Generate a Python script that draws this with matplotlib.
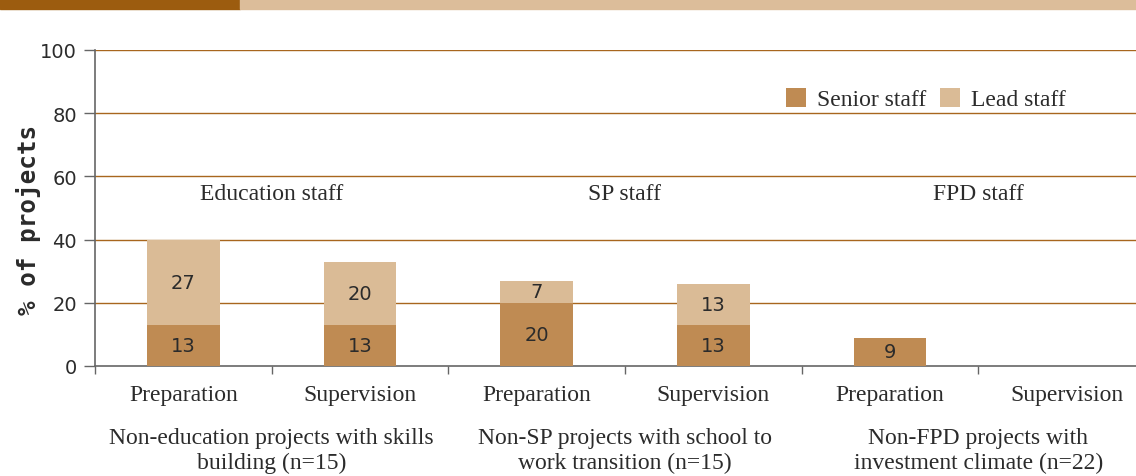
import matplotlib
matplotlib.use("Agg")
import matplotlib.pyplot as plt
from matplotlib.patches import Rectangle

categories = ["Preparation", "Supervision", "Preparation", "Supervision", "Preparation", "Supervision"]
senior = [13, 13, 20, 13, 9, 0]
lead = [27, 20, 7, 13, 0, 0]
group_titles = ["Education staff", "SP staff", "FPD staff"]
group_labels = ["Non-education projects with skills\nbuilding (n=15)",
                "Non-SP projects with school to\nwork transition (n=15)",
                "Non-FPD projects with\ninvestment climate (n=22)"]
yticks = [0, 20, 40, 60, 80, 100]

c_senior = "#bf8b53"
c_lead = "#dabb96"
c_grid = "#a8661e"
c_text = "#2b2b2b"
serif = ["Liberation Serif", "DejaVu Serif"]
fs = 17

fig = plt.figure(figsize=(11.36, 4.77), dpi=100)
# top decorative band
fig.patches.append(Rectangle((0, 1 - 10/477), 240/1136, 10/477, transform=fig.transFigure,
                             color="#9c5c0f", zorder=0))
fig.patches.append(Rectangle((240/1136, 1 - 10/477), 1 - 240/1136, 10/477, transform=fig.transFigure,
                             color="#dcbd9a", zorder=0))

ax = fig.add_axes([95/1136, 110/477, 1060/1136, 316/477])
x = list(range(len(categories)))
w = 0.41
ax.bar(x, senior, width=w, color=c_senior, zorder=3, label="Senior staff")
ax.bar(x, lead, width=w, bottom=senior, color=c_lead, zorder=3, label="Lead staff")

for i in x:
    if senior[i] > 0:
        ax.text(i, senior[i] / 2, str(senior[i]), ha="center", va="center", fontsize=14,
                color=c_text, zorder=4)
    if lead[i] > 0:
        ax.text(i, senior[i] + lead[i] / 2, str(lead[i]), ha="center", va="center", fontsize=14,
                color=c_text, zorder=4)

ax.set_xlim(-0.5, 5.5)
ax.set_ylim(0, 100)
ax.set_yticks(yticks)
ax.tick_params(axis="y", labelsize=14, colors="#666666", labelcolor=c_text, length=8, width=1,
               pad=5)
for yv in yticks[1:]:
    ax.axhline(yv, color=c_grid, lw=1, zorder=1)

ax.set_xticks([-0.5, 0.5, 1.5, 2.5, 3.5, 4.5])
ax.set_xticklabels([])
ax.tick_params(axis="x", length=6, colors="#666666", width=1)
for i, c in enumerate(categories):
    ax.text(i, -8.9, c, ha="center", va="center", fontsize=fs, family=serif, color=c_text)

for g in range(3):
    ax.text(2 * g + 0.5, 54.5, group_titles[g], ha="center", va="center", fontsize=fs,
            family=serif, color=c_text)
    ax.text(2 * g + 0.5, -26.7, group_labels[g], ha="center", va="center", fontsize=fs,
            family=serif, color=c_text, linespacing=1.25)

for s in ["top", "right"]:
    ax.spines[s].set_visible(False)
for s in ["left", "bottom"]:
    ax.spines[s].set_color("#666666")
    ax.spines[s].set_linewidth(1.2)

ax.set_ylabel("% of projects", fontsize=17.5, fontweight="bold", family="DejaVu Sans Mono",
              color=c_text)
ax.yaxis.set_label_coords(-0.051, 0.465)

leg = ax.legend(loc="center left", bbox_to_anchor=(0.652, 0.845), ncol=2, frameon=False,
                prop={"family": serif, "size": fs}, handlelength=0.85, handleheight=0.85,
                handletextpad=0.45, columnspacing=0.6, borderaxespad=0, borderpad=0)
for t in leg.get_texts():
    t.set_color(c_text)

fig.savefig("out.png", dpi=100)
